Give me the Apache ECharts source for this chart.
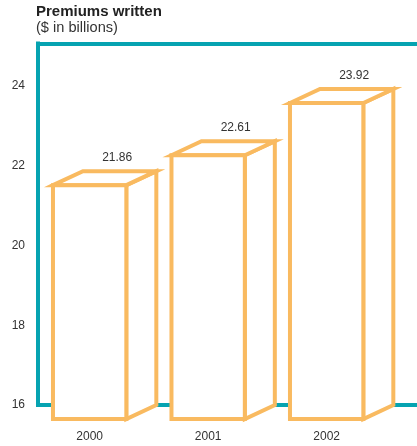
<!DOCTYPE html>
<html>
<head>
<meta charset="utf-8">
<script src="https://cdn.jsdelivr.net/npm/echarts@6/dist/echarts.min.js"></script>
<style>
html,body{margin:0;padding:0;background:#fff;}
#chart{width:417px;height:446px;}
</style>
</head>
<body>
<div id="chart"></div>
<script>
const categories = ['2000', '2001', '2002'];
const premiums = [21.86, 22.61, 23.92];
const yTicks = [16, 18, 20, 22, 24];

const yMin = 16, yMax = 25.06, yInterval = 2;
const ORANGE = '#F9BA60';
const TEAL = '#06A3B1';
const DX = 30, DY = 14;

const chart = echarts.init(document.getElementById('chart'), null, {renderer: 'canvas'});

const option = {
  animation: false,
  backgroundColor: '#fff',
  title: {
    text: 'Premiums written',
    subtext: '($ in billions)',
    left: 36, top: 4, padding: 0, itemGap: 1.5,
    textStyle: {fontFamily: 'Liberation Sans', fontSize: 15, fontWeight: 'bold', color: '#222'},
    subtextStyle: {fontFamily: 'Liberation Sans', fontSize: 14.6, color: '#333'}
  },
  grid: [
    {left: 38, right: -10, top: 43.5, bottom: 41},
    {left: 30.4, right: 31.1, top: 43.5, bottom: 41}
  ],
  xAxis: [
    {gridIndex: 0, type: 'value', min: 0, max: 1, position: 'bottom',
     axisLine: {show: true, onZero: false, lineStyle: {color: TEAL, width: 4, cap: 'square'}},
     axisTick: {show: false}, axisLabel: {show: false}, splitLine: {show: false}},
    {gridIndex: 0, type: 'value', min: 0, max: 1, position: 'top',
     axisLine: {show: true, onZero: false, lineStyle: {color: TEAL, width: 4, cap: 'square'}},
     axisTick: {show: false}, axisLabel: {show: false}, splitLine: {show: false}},
    {gridIndex: 1, type: 'category', data: categories, position: 'bottom',
     axisLine: {show: false}, axisTick: {show: false}, splitLine: {show: false},
     axisLabel: {margin: 26, fontFamily: 'Liberation Sans', fontSize: 12, color: '#333'}}
  ],
  yAxis: [
    {gridIndex: 0, type: 'value', min: yMin, max: yMax, interval: yInterval,
     axisLine: {show: true, onZero: false, lineStyle: {color: TEAL, width: 4, cap: 'square'}},
     axisTick: {show: false}, splitLine: {show: false},
     axisLabel: {margin: 13, showMaxLabel: false, fontFamily: 'Liberation Sans', fontSize: 12, color: '#333',
       formatter: v => (yTicks.indexOf(v) >= 0 ? String(v) : '')}},
    {gridIndex: 1, type: 'value', min: yMin, max: yMax, show: false}
  ],
  series: [{
    type: 'custom',
    xAxisIndex: 2, yAxisIndex: 1,
    clip: false,
    data: premiums.map((v, i) => [i, v]),
    renderItem: function (params, api) {
      const idx = api.value(0);
      const val = api.value(1);
      const top = api.coord([idx, val]);
      const base = api.coord([idx, yMin]);
      const hw = api.size([1, 0])[0] * 0.619 / 2;
      const xL = top[0] - hw, xR = top[0] + hw;
      const yT = top[1], yB = base[1];
      const style = {fill: '#fff', stroke: ORANGE, lineWidth: 4, lineJoin: 'miter'};
      return {
        type: 'group',
        children: [
          {type: 'polygon', shape: {points: [[xR, yT + DY], [xR + DX, yT], [xR + DX, yB], [xR, yB + DY]]}, style: style},
          {type: 'polygon', shape: {points: [[xL, yT + DY], [xL + DX, yT], [xR + DX, yT], [xR, yT + DY]]}, style: style},
          {type: 'polygon', shape: {points: [[xL, yT + DY], [xR, yT + DY], [xR, yB + DY], [xL, yB + DY]]}, style: style},
          {type: 'text', style: {
            text: val.toFixed(2), x: top[0] + DX - 2.5, y: yT - 13.5,
            align: 'center', verticalAlign: 'middle',
            font: '12px "Liberation Sans"', fill: '#333'}}
        ]
      };
    }
  }]
};
chart.setOption(option);
</script>
</body>
</html>
